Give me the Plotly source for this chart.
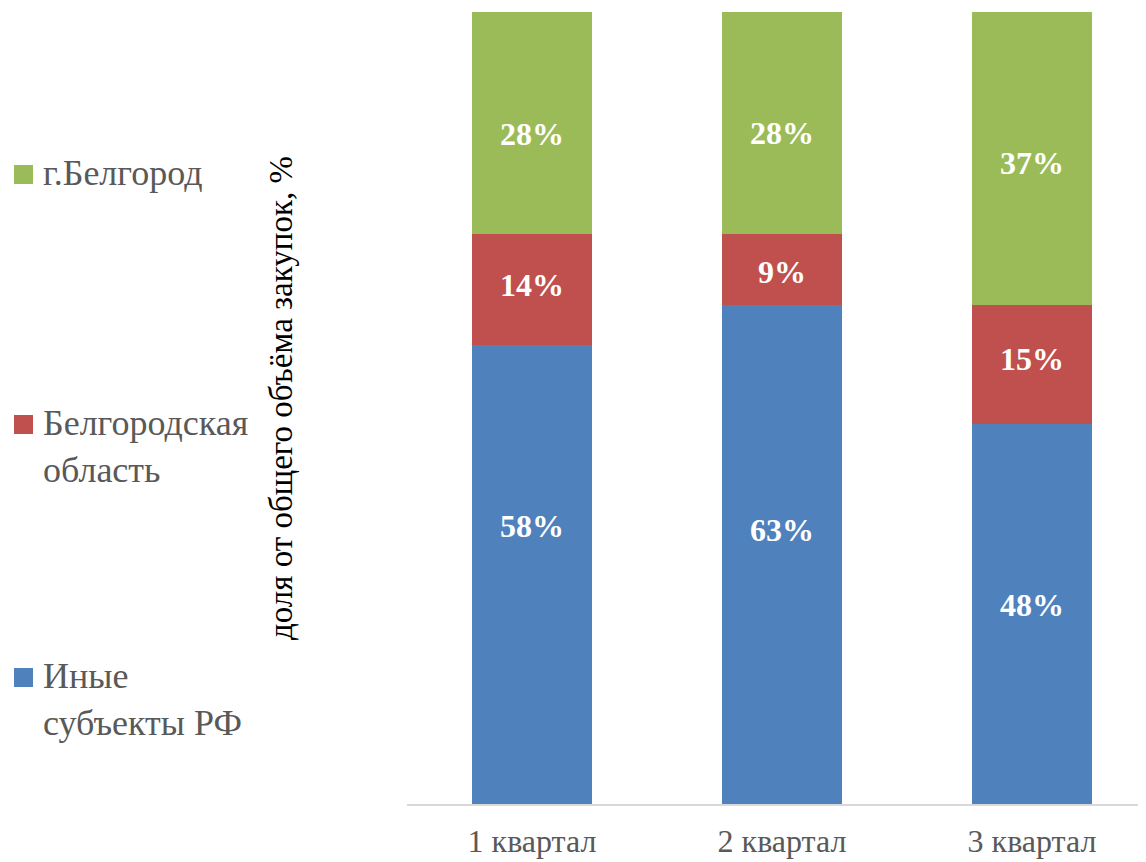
import plotly.graph_objects as go

categories = ["1 квартал", "2 квартал", "3 квартал"]
series_names = ["Иные<br>субъекты РФ", "Белгородская<br>область", "г.Белгород"]
inye = [58, 63, 48]
oblast = [14, 9, 15]
gorod = [28, 28, 37]
colors = ["#4F81BD", "#C0504D", "#9BBB59"]
values = [inye, oblast, gorod]
y_title = "доля от общего объёма закупок, %"
# label vertical nudges in px (style), per series per category
label_shift = [[48, 25, 9], [4, -3, 5], [-11, -10, -4]]

SERIF = "'Times New Roman', 'Liberation Serif', 'DejaVu Serif', serif"

OFF = 8  # page body margin
W, H = 1146 - OFF, 862 - OFF
L, R, T, B = 407 - OFF, 0, 12 - OFF, 58
pw = W - L - R
ph = H - T - B

fig = go.Figure()
annotations = []
base = [0, 0, 0]
for name, vals, col, shifts in zip(series_names, values, colors, label_shift):
    fig.add_trace(go.Bar(
        x=categories, y=vals, name=name, marker=dict(color=col, line=dict(width=0)),
        width=0.48, showlegend=False, hoverinfo="skip",
    ))
    for i, (c, v) in enumerate(zip(categories, vals)):
        annotations.append(dict(x=c, y=base[i] + v / 2, xref="x", yref="y",
                                text=f"<b>{v}%</b>", showarrow=False, yshift=shifts[i],
                                font=dict(family=SERIF, size=32, color="white")))
        base[i] += v

def px_x(px):
    return (px - OFF - L) / pw

def px_y(py):
    return (H - B - (py - OFF)) / ph

legend_y = [175, 425, 678]
order = [2, 1, 0]
shapes = []
for idx, yc in zip(order, legend_y):
    shapes.append(dict(type="rect", xref="paper", yref="paper",
                       x0=px_x(14), x1=px_x(33), y0=px_y(yc + 9), y1=px_y(yc - 10),
                       fillcolor=colors[idx], line=dict(width=0)))
    annotations.append(dict(xref="paper", yref="paper", x=px_x(41), y=px_y(yc - 24),
                            xanchor="left", yanchor="top", align="left",
                            text=series_names[idx], showarrow=False,
                            font=dict(family=SERIF, size=36, color="#595959")))

annotations.append(dict(xref="paper", yref="paper", x=px_x(281), y=px_y(398),
                        xanchor="center", yanchor="middle", textangle=-90,
                        text=y_title, showarrow=False,
                        font=dict(family=SERIF, size=33, color="black")))

fig.update_layout(
    width=W, height=H,
    margin=dict(l=L, r=R, t=T, b=B, pad=0),
    barmode="stack",
    font=dict(family=SERIF),
    plot_bgcolor="white", paper_bgcolor="white",
    xaxis=dict(range=[-0.5, -0.5 + pw / 250], showgrid=False, showline=True,
               linecolor="#D9D9D9", linewidth=2, ticks="", ticklabelstandoff=8,
               tickfont=dict(family=SERIF, size=32, color="#595959")),
    yaxis=dict(range=[0, 100], showgrid=False, showticklabels=False, zeroline=False),
    annotations=annotations, shapes=shapes,
)
fig.write_html("out.html")
